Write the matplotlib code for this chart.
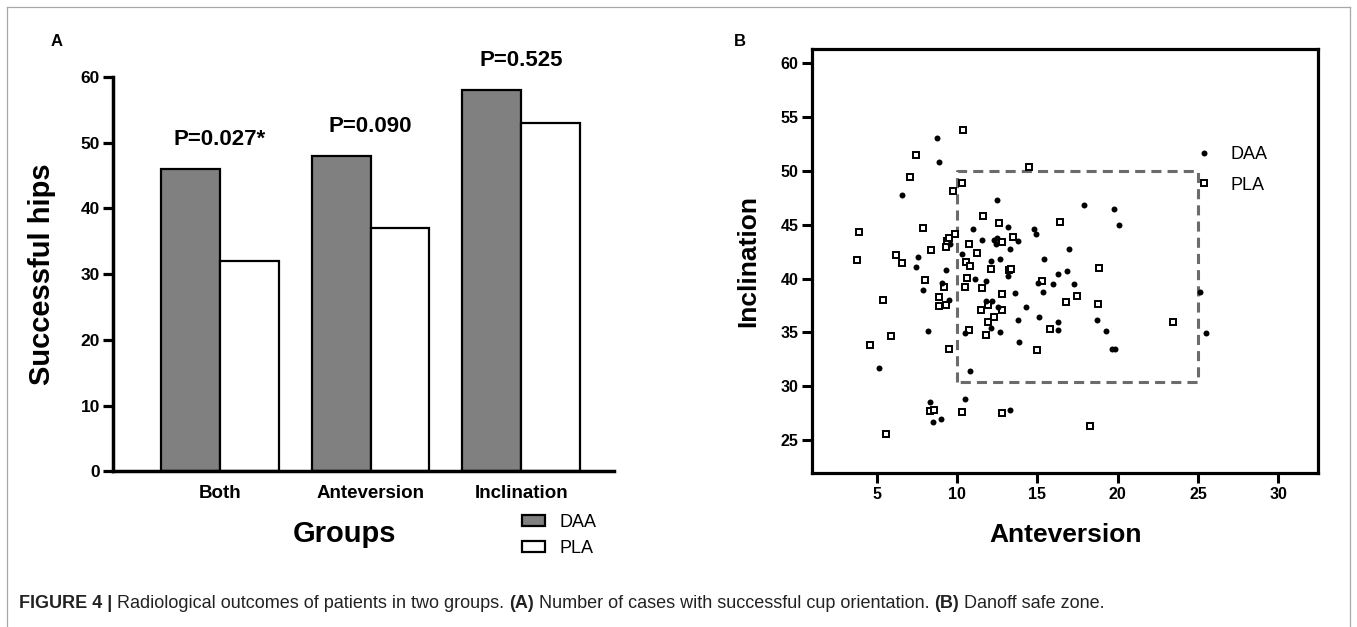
import matplotlib
matplotlib.use("Agg")
import matplotlib.pyplot as plt
import numpy as np
from matplotlib.patches import Patch
from matplotlib.lines import Line2D
from matplotlib.transforms import IdentityTransform

plt.rcParams['font.family'] = ['Liberation Sans', 'DejaVu Sans']

# panel A
groups = ['Both', 'Anteversion', 'Inclination']
daa_hips = [46, 48, 58]
pla_hips = [32, 37, 53]
p_labels = ['P=0.027*', 'P=0.090', 'P=0.525']

# panel B (anteversion, inclination)
daa_ante = [8.77, 8.89, 6.59, 12.5, 10.97, 13.19, 14.79, 14.89, 11.57, 12.3,
            12.5, 12.4, 13.79, 13.29, 16.98, 15.39, 7.59, 10.3, 12.09, 12.67,
            9.58, 7.46, 9.29, 13.19, 16.28, 16.86, 17.27, 15.03, 15.99, 15.36,
            13.6, 14.29, 11.09, 11.8, 9.08, 7.88, 9.5, 11.8, 12.19, 12.53,
            15.08, 16.3, 16.3, 13.79, 12.09, 12.69, 10.49, 13.87, 8.19, 5.16,
            10.78, 10.47, 8.3, 8.48, 8.98, 13.31, 17.88, 19.78, 20.07, 18.71,
            19.29, 19.66, 19.8, 25.11, 25.49]
daa_incl = [53.04, 50.8, 47.76, 47.27, 44.58, 44.79, 44.58, 44.14, 43.55, 43.58,
            43.77, 43.21, 43.46, 42.75, 42.75, 41.85, 41.97, 42.28, 41.66, 41.85,
            43.21, 41.05, 40.77, 40.27, 40.45, 40.67, 39.46, 39.61, 39.46, 38.72,
            38.62, 37.33, 39.96, 39.74, 39.56, 38.94, 38.04, 37.91, 37.91, 37.33,
            36.43, 35.96, 35.25, 36.12, 35.44, 35.03, 34.91, 34.1, 35.13, 31.72,
            31.41, 28.78, 28.5, 26.67, 26.98, 27.79, 46.86, 46.46, 44.98, 36.12,
            35.13, 33.48, 33.48, 38.72, 34.91]
pla_ante = [10.39, 7.42, 7.09, 14.45, 10.3, 9.77, 11.59, 12.61, 16.38, 3.9,
            7.88, 9.85, 9.35, 9.31, 10.74, 8.4, 11.26, 12.8, 13.5, 3.79,
            6.18, 6.59, 10.55, 10.8, 12.09, 13.2, 13.35, 8.02, 10.64, 9.19,
            10.47, 11.57, 15.3, 17.44, 16.78, 5.39, 8.89, 8.89, 9.31, 12.8,
            11.47, 11.9, 12.8, 12.32, 11.94, 15.76, 10.72, 11.8, 5.91, 4.56,
            9.48, 14.97, 8.3, 8.55, 10.29, 12.78, 5.58, 18.3, 18.85, 18.79,
            23.42, 9.5]
pla_incl = [53.8, 51.48, 49.46, 50.33, 48.89, 48.1, 45.78, 45.13, 45.25, 44.33,
            44.65, 44.14, 43.52, 42.95, 43.2, 42.62, 42.34, 43.42, 43.83, 41.75,
            42.22, 41.47, 41.57, 41.2, 40.86, 40.75, 40.9, 39.87, 40.08, 39.24,
            39.24, 39.15, 39.74, 38.38, 37.85, 38.03, 38.32, 37.45, 37.51, 38.57,
            37.08, 37.54, 37.05, 36.46, 35.96, 35.31, 35.22, 34.73, 34.69, 33.85,
            33.45, 33.33, 27.65, 27.75, 27.57, 27.48, 25.59, 26.3, 40.95, 37.64,
            35.93, 43.75]
safe_ante = [10, 25]
safe_incl = [30.4, 50]

W, H = 1357, 627
fig = plt.figure(figsize=(W / 100, H / 100), dpi=100)

def fx(px):
    return px / W

def fy(py):
    return 1 - py / H

# ---------- A ----------
axA = fig.add_axes([fx(112.5), fy(471.4), fx(614 - 112.5), (471.4 - 76.8) / H])
x = np.arange(len(groups))
bw = 0.39
axA.bar(x - bw / 2, daa_hips, bw, color='#808080', edgecolor='black', linewidth=1.6)
axA.bar(x + bw / 2, pla_hips, bw, color='white', edgecolor='black', linewidth=1.6)
for i, lab in enumerate(p_labels):
    axA.text(x[i], daa_hips[i] + 4.5, lab, ha='center', va='center',
             fontsize=16, fontweight='bold')
axA.set_xlim(-0.714, 2.616)
axA.set_ylim(0, 60)
axA.set_yticks(np.arange(0, 61, 10))
axA.set_xticks(x)
axA.set_xticklabels(groups, fontsize=13.5, fontweight='bold')
axA.tick_params(axis='x', length=0, pad=10)
axA.tick_params(axis='y', length=7, width=2.3, labelsize=12.5, pad=2)
for lab in axA.get_yticklabels():
    lab.set_fontweight('bold')
for s in ['top', 'right']:
    axA.spines[s].set_visible(False)
for s in ['left', 'bottom']:
    axA.spines[s].set_linewidth(2.5)
axA.set_ylabel('Successful hips', fontsize=21, fontweight='bold')
axA.yaxis.set_label_coords(fx(56 - 112.5) / fx(614 - 112.5), 0.5)
fig.text(fx(344), fy(534), 'Groups', ha='center', va='center',
         fontsize=21, fontweight='bold')
fig.text(fx(57), fy(41), 'A', ha='center', va='center', fontsize=12, fontweight='bold')

hA = [Patch(facecolor='#808080', edgecolor='black', linewidth=1.6, label='DAA'),
      Patch(facecolor='white', edgecolor='black', linewidth=1.6, label='PLA')]
fig.legend(handles=hA, loc='upper left', bbox_to_anchor=(fx(522), fy(514)),
           frameon=False, fontsize=13, handlelength=1.3, handleheight=0.55,
           handletextpad=0.8, labelspacing=0.5, borderpad=0, borderaxespad=0)

# ---------- B ----------
axB = fig.add_axes([fx(812.3), fy(473.3), fx(1318 - 812.3), (473.3 - 49.3) / H])
axB.plot([safe_ante[0], safe_ante[0], safe_ante[1], safe_ante[1], safe_ante[0]],
         [safe_incl[0], safe_incl[1], safe_incl[1], safe_incl[0], safe_incl[0]],
         color='#6b6b6b', linewidth=2.2, dashes=(3.3, 2.0), zorder=1)
axB.plot(daa_ante, daa_incl, 'o', color='black', markersize=4.3, markeredgewidth=0,
         label='DAA', zorder=3)
axB.plot(pla_ante, pla_incl, 's', markerfacecolor='white', markeredgecolor='black',
         markersize=4.0, markeredgewidth=1.4, label='PLA', zorder=2)
axB.set_xlim(0.99, 32.46)
axB.set_ylim(21.9, 61.3)
axB.set_xticks(np.arange(5, 31, 5))
axB.set_yticks(np.arange(25, 61, 5))
axB.tick_params(length=7, width=2.2, labelsize=11.5, pad=3)
for lab in axB.get_xticklabels() + axB.get_yticklabels():
    lab.set_fontweight('bold')
for s in axB.spines.values():
    s.set_linewidth(2.3)
axB.set_xlabel('Anteversion', fontsize=19, fontweight='bold')
axB.xaxis.set_label_coords(0.5, (473.3 - 523) / (473.3 - 49.3))
axB.set_ylabel('Inclination', fontsize=19, fontweight='bold')
axB.yaxis.set_label_coords((760 - 812.3) / (1318 - 812.3), 0.5)
axB.legend(loc='upper left', bbox_to_anchor=(fx(1195), fy(146)),
           bbox_transform=fig.transFigure, frameon=False, fontsize=13,
           handlelength=1.0, handletextpad=0.95, labelspacing=0.75,
           borderpad=0, borderaxespad=0)
fig.text(fx(740), fy(41), 'B', ha='center', va='center', fontsize=12, fontweight='bold')

# frame and caption
fc = '#a8a8a8'
fig.add_artist(Line2D([fx(7), fx(7)], [0, fy(7)], color=fc, linewidth=0.9))
fig.add_artist(Line2D([fx(7), fx(1350)], [fy(7), fy(7)], color=fc, linewidth=0.9))
fig.add_artist(Line2D([fx(1350), fx(1350)], [0, fy(7)], color=fc, linewidth=0.9))

parts = [('FIGURE 4 |', 'bold'),
         ('Radiological outcomes of patients in two groups.', 'normal'),
         ('(A)', 'bold'),
         ('Number of cases with successful cup orientation.', 'normal'),
         ('(B)', 'bold'),
         ('Danoff safe zone.', 'normal')]
cap_size = 13
r = fig.canvas.get_renderer()
sp = fig.text(0, 0, 'a a', fontsize=cap_size)
sp2 = fig.text(0, 0, 'aa', fontsize=cap_size)
space = sp.get_window_extent(r).width - sp2.get_window_extent(r).width
sp.remove()
sp2.remove()
cx = 19
for txt, w in parts:
    t = fig.text(cx, H - 603, txt, fontsize=cap_size, fontweight=w, va='center',
                 color='#222222', transform=IdentityTransform())
    cx += t.get_window_extent(r).width + space

fig.savefig('out.png', dpi=100)
